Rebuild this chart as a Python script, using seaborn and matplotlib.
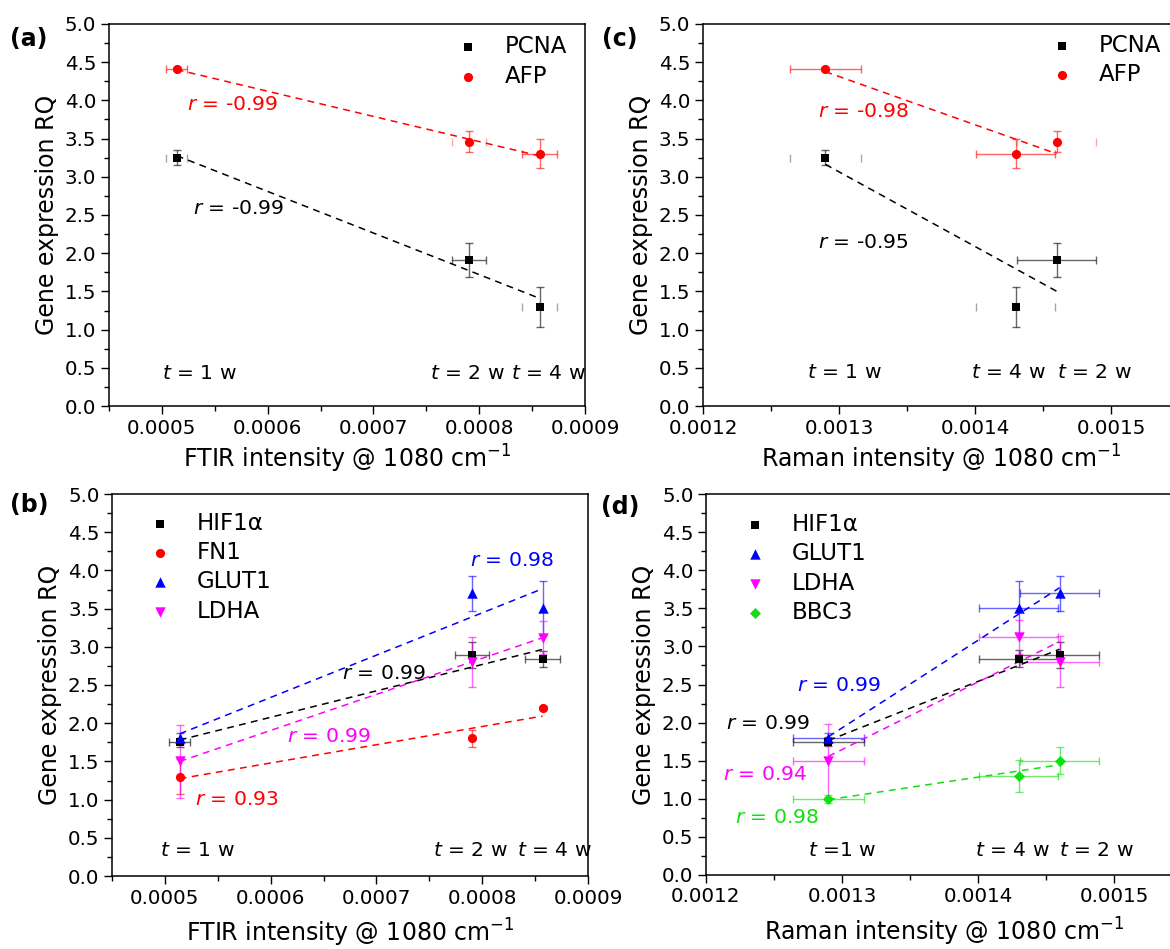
import matplotlib
matplotlib.use("Agg")
import matplotlib.pyplot as plt
from matplotlib.ticker import MultipleLocator, FormatStrFormatter
import numpy as np
import pandas as pd
import seaborn as sns

# ---------------------------------------------------------------------------
# Data: spectral intensity at 1080 cm-1 and gene expression (RQ) per time point
# ---------------------------------------------------------------------------
time_points = ["1 w", "2 w", "4 w"]

ftir_x = [0.000514, 0.000790, 0.000857]
ftir_xerr = [0.000010, 0.000016, 0.000017]
raman_x = [0.00129, 0.00146, 0.00143]
raman_xerr = [0.000026, 0.000029, 0.000029]

pcna_rq = [3.25, 1.91, 1.30]
pcna_err = [0.10, 0.22, 0.26]
afp_rq = [4.41, 3.46, 3.30]
afp_err = [0.03, 0.14, 0.19]
hif1a_rq = [1.75, 2.89, 2.84]
hif1a_err = [0.06, 0.17, 0.11]
fn1_rq = [1.30, 1.80, 2.20]
fn1_err = [0.23, 0.11, 0.03]
glut1_rq = [1.80, 3.70, 3.51]
glut1_err = [0.07, 0.23, 0.35]
ldha_rq = [1.50, 2.80, 3.12]
ldha_err = [0.48, 0.33, 0.22]
bbc3_rq = [1.00, 1.50, 1.30]
bbc3_err = [0.05, 0.18, 0.21]

# correlation coefficients printed next to each fit
r_a = {"PCNA": -0.99, "AFP": -0.99}
r_b = {"HIF1α": 0.99, "FN1": 0.93, "GLUT1": 0.98, "LDHA": 0.99}
r_c = {"PCNA": -0.95, "AFP": -0.98}
r_d = {"HIF1α": 0.99, "GLUT1": 0.99, "LDHA": 0.94, "BBC3": 0.98}

genes = {
    "PCNA": (pcna_rq, pcna_err),
    "AFP": (afp_rq, afp_err),
    "HIF1α": (hif1a_rq, hif1a_err),
    "FN1": (fn1_rq, fn1_err),
    "GLUT1": (glut1_rq, glut1_err),
    "LDHA": (ldha_rq, ldha_err),
    "BBC3": (bbc3_rq, bbc3_err),
}


def gene_frame(x, xerr):
    rows = []
    for g, (rq, err) in genes.items():
        for i, t in enumerate(time_points):
            rows.append(dict(gene=g, time=t, x=x[i], xerr=xerr[i],
                             rq=rq[i], rq_err=err[i]))
    return pd.DataFrame(rows)


ftir_df = gene_frame(ftir_x, ftir_xerr)
raman_df = gene_frame(raman_x, raman_xerr)

# ---------------------------------------------------------------------------
# Styling
# ---------------------------------------------------------------------------
sns.set_theme(style="ticks")
plt.rcParams.update({
    "font.family": ["DejaVu Sans"],
    "mathtext.fontset": "dejavusans",
    "axes.edgecolor": "black",
    "axes.labelcolor": "black",
    "text.color": "black",
    "xtick.color": "black",
    "ytick.color": "black",
    "axes.linewidth": 1.1,
    "xtick.direction": "out",
    "ytick.direction": "out",
    "xtick.major.size": 5.5,
    "ytick.major.size": 5.5,
    "xtick.minor.size": 3.5,
    "ytick.minor.size": 3.5,
    "xtick.major.width": 1.0,
    "ytick.major.width": 1.0,
    "xtick.minor.width": 1.0,
    "ytick.minor.width": 1.0,
    "xtick.labelsize": 14.3,
    "ytick.labelsize": 14.3,
    "axes.labelsize": 17,
})

style = {
    "PCNA": dict(color="black", marker="s", ms=6.0),
    "AFP": dict(color="#ff0000", marker="o", ms=6.6),
    "HIF1α": dict(color="black", marker="s", ms=6.0),
    "FN1": dict(color="#ff0000", marker="o", ms=6.6),
    "GLUT1": dict(color="#0000ff", marker="^", ms=7.5),
    "LDHA": dict(color="#ff00ff", marker="v", ms=7.5),
    "BBC3": dict(color="#10e010", marker="D", ms=5.6),
}

W, H = 1170, 949
fig = plt.figure(figsize=(W / 100, H / 100), dpi=100)
fig.patch.set_facecolor("white")


def px_axes(left, top, right, bottom):
    return fig.add_axes([left / W, (H - bottom) / H, (right - left) / W, (bottom - top) / H])


ax_a = px_axes(109, 24, 585, 406)
ax_b = px_axes(112, 494, 588, 876)
ax_c = px_axes(703, 24, 1179, 406)
ax_d = px_axes(706, 494, 1182, 875)


def draw_panel(ax, df, names, xerr_names, caps_only):
    for g in names:
        d = df[df.gene == g].reset_index(drop=True)
        st = style[g]
        ax.errorbar(d.x, d.rq, yerr=d.rq_err, fmt="none", ecolor=st["color"],
                    alpha=0.6, elinewidth=1.0, capsize=3, capthick=1.0, zorder=2)
        if g in xerr_names:
            for i, row in d.iterrows():
                faint = i in caps_only.get(g, ())
                ax.errorbar(row.x, row.rq, xerr=row.xerr, fmt="none",
                            ecolor=st["color"], alpha=0.35 if faint else 0.6,
                            elinewidth=0 if faint else 1.0, capsize=3,
                            capthick=1.0, zorder=2)
        sns.regplot(data=d, x="x", y="rq", ax=ax, scatter=False, ci=None,
                    truncate=True,
                    line_kws=dict(color=st["color"], lw=1.1,
                                  ls=(0, (4.5, 3.5)), zorder=3))
    for g in names:
        d = df[df.gene == g]
        st = style[g]
        sns.scatterplot(data=d, x="x", y="rq", ax=ax, marker=st["marker"],
                        color=st["color"], s=st["ms"] ** 2, linewidth=0,
                        label=g, zorder=4)


draw_panel(ax_a, ftir_df, ["PCNA", "AFP"], ["PCNA", "AFP"],
           {"PCNA": (0, 2), "AFP": (1,)})
draw_panel(ax_b, ftir_df, ["HIF1α", "FN1", "GLUT1", "LDHA"], ["HIF1α"], {})
draw_panel(ax_c, raman_df, ["PCNA", "AFP"], ["PCNA", "AFP"],
           {"PCNA": (0, 2), "AFP": (1,)})
draw_panel(ax_d, raman_df, ["HIF1α", "GLUT1", "LDHA", "BBC3"],
           ["HIF1α", "GLUT1", "LDHA", "BBC3"], {})

ftir_label = "FTIR intensity @ 1080 cm$^{-1}$"
raman_label = "Raman intensity @ 1080 cm$^{-1}$"

for ax, xlim, xlabel, pad in [
    (ax_a, (0.00045, 0.0009), ftir_label, 4.0),
    (ax_b, (0.00045, 0.0009), ftir_label, 6.5),
    (ax_c, (0.0012, 0.00155), raman_label, 4.0),
    (ax_d, (0.0012, 0.00155), raman_label, 6.5),
]:
    ax.set_xlim(*xlim)
    ax.set_ylim(0, 5.0)
    ax.xaxis.set_major_locator(MultipleLocator(0.0001))
    ax.xaxis.set_minor_locator(MultipleLocator(0.00005))
    ax.xaxis.set_major_formatter(FormatStrFormatter("%.4f"))
    ax.yaxis.set_major_locator(MultipleLocator(0.5))
    ax.yaxis.set_minor_locator(MultipleLocator(0.25))
    ax.yaxis.set_major_formatter(FormatStrFormatter("%.1f"))
    ax.set_xlabel(xlabel, labelpad=pad)
    ax.set_ylabel("Gene expression RQ", labelpad=4.5)
    for sp in ax.spines.values():
        sp.set_visible(True)
        sp.set_color("black")
    ax.tick_params(which="both", top=False, right=False)
    ax.set_facecolor("white")


def note(ax, fx, fy, s, color="black", size=14.6):
    ax.text(fx, fy, s, transform=ax.transAxes, ha="left", va="center",
            color=color, fontsize=size)


def r_text(r):
    return f"$r$ = {r:.2f}"


def t_text(t, compact=False):
    return ("$t$ =" if compact else "$t$ = ") + t


# panel (a)
note(ax_a, 0.164, 0.788, r_text(r_a["AFP"]), style["AFP"]["color"])
note(ax_a, 0.176, 0.516, r_text(r_a["PCNA"]))
note(ax_a, 0.111, 0.086, t_text(time_points[0]))
note(ax_a, 0.674, 0.086, t_text(time_points[1]))
note(ax_a, 0.845, 0.086, t_text(time_points[2]))

# panel (b)
note(ax_b, 0.752, 0.827, r_text(r_b["GLUT1"]), style["GLUT1"]["color"])
note(ax_b, 0.483, 0.529, r_text(r_b["HIF1α"]))
note(ax_b, 0.368, 0.366, r_text(r_b["LDHA"]), style["LDHA"]["color"])
note(ax_b, 0.174, 0.199, r_text(r_b["FN1"]), style["FN1"]["color"])
note(ax_b, 0.101, 0.068, t_text(time_points[0]))
note(ax_b, 0.674, 0.068, t_text(time_points[1]))
note(ax_b, 0.851, 0.068, t_text(time_points[2]))

# panel (c)
note(ax_c, 0.242, 0.770, r_text(r_c["AFP"]), style["AFP"]["color"])
note(ax_c, 0.242, 0.427, r_text(r_c["PCNA"]))
note(ax_c, 0.218, 0.089, t_text(time_points[0]))
note(ax_c, 0.563, 0.089, t_text(time_points[2]))
note(ax_c, 0.744, 0.089, t_text(time_points[1]))

# panel (d)
note(ax_d, 0.191, 0.497, r_text(r_d["GLUT1"]), style["GLUT1"]["color"])
note(ax_d, 0.042, 0.398, r_text(r_d["HIF1α"]))
note(ax_d, 0.036, 0.264, r_text(r_d["LDHA"]), style["LDHA"]["color"])
note(ax_d, 0.061, 0.152, r_text(r_d["BBC3"]), style["BBC3"]["color"])
note(ax_d, 0.214, 0.063, t_text(time_points[0], compact=True))
note(ax_d, 0.565, 0.063, t_text(time_points[2]))
note(ax_d, 0.742, 0.063, t_text(time_points[1]))

# legends
for ax, anchor in [(ax_a, (0.730, 0.970)), (ax_b, (0.077, 0.954)),
                   (ax_c, (0.730, 0.975)), (ax_d, (0.079, 0.950))]:
    ax.legend(loc="upper left", bbox_to_anchor=anchor, frameon=False,
              fontsize=16.5, handlelength=1.0, handletextpad=1.1,
              labelspacing=0.28, borderpad=0, borderaxespad=0)

# panel letters
for label, (px, py) in {"(a)": (29, 39), "(b)": (29, 505),
                        "(c)": (620, 39), "(d)": (620, 507)}.items():
    fig.text(px / W, 1 - py / H, label, ha="center", va="center",
             fontsize=17, fontweight="bold")

fig.savefig("out.png", dpi=100, facecolor="white")
